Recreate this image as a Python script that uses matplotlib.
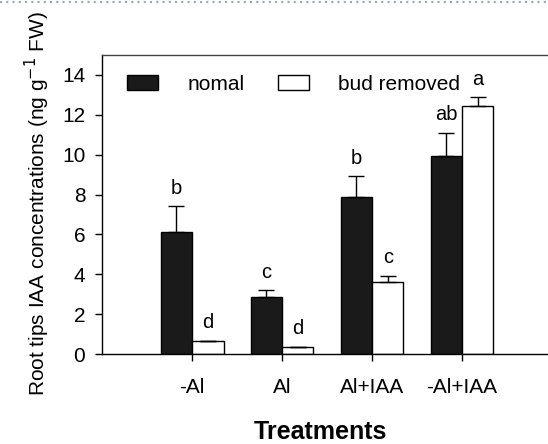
import numpy as np
import matplotlib
matplotlib.use("Agg")
import matplotlib.pyplot as plt
from matplotlib.lines import Line2D

plt.rcParams['font.family'] = ['Liberation Sans', 'DejaVu Sans']

treatments = ["-Al", "Al", "Al+IAA", "-Al+IAA"]
nomal = [6.1, 2.85, 7.9, 9.95]
nomal_err = [1.3, 0.35, 1.03, 1.15]
removed = [0.63, 0.35, 3.6, 12.45]
removed_err = [0.03, 0.02, 0.32, 0.42]
nomal_letters = ["b", "c", "b", "ab"]
removed_letters = ["d", "d", "c", "a"]

fig = plt.figure(figsize=(5.48, 4.44), dpi=100)
# axes runs past the right edge of the figure (cropped, like the reference)
ax = fig.add_axes([102/548, 1-354/444, 450/548, 299/444])

x = np.arange(1, len(treatments) + 1)
w = 0.35
ekw = dict(elinewidth=1, capthick=1, ecolor='black')
ax.bar(x - w/2, nomal, w, color='#1a1a1a', edgecolor='black', linewidth=1,
       yerr=[np.zeros(4), nomal_err], capsize=6, error_kw=ekw, label='nomal')
ax.bar(x + w/2, removed, w, color='white', edgecolor='black', linewidth=1,
       yerr=[np.zeros(4), removed_err], capsize=6, error_kw=ekw, label='bud removed')

for i in range(len(treatments)):
    ax.text(x[i] - w/2, nomal[i] + nomal_err[i] + 0.9, nomal_letters[i],
            ha='center', va='center', fontsize=14.5)
    ax.text(x[i] + w/2, removed[i] + removed_err[i] + 0.9, removed_letters[i],
            ha='center', va='center', fontsize=14.5)

ax.set_xlim(0, 5)
ax.set_ylim(0, 15)
ax.set_yticks(range(0, 15, 2))
ax.set_xticks(x)
ax.set_xticklabels(treatments)
ax.tick_params(direction='out', length=5, width=1, labelsize=15)
ax.tick_params(axis='y', pad=7)
ax.tick_params(axis='x', pad=12)
ax.spines['right'].set_visible(False)
for s in ['left', 'bottom', 'top']:
    ax.spines[s].set_linewidth(1)
ax.spines['top'].set_color('#444444')

ax.set_ylabel('Root tips IAA concentrations (ng g$^{-1}$ FW)', fontsize=15)
ax.yaxis.set_label_coords(-0.112, 0.505)
ax.set_xlabel('Treatments', fontsize=18, fontweight='bold')
ax.xaxis.set_label_coords(0.4856, -0.221)

ax.legend(loc='upper left', ncol=2, frameon=False, fontsize=15,
          handlelength=1.5, handleheight=0.77, handletextpad=1.4,
          columnspacing=1.6, bbox_to_anchor=(0.0136, 0.997))

fig.add_artist(Line2D([0, 1], [1 - 2/444, 1 - 2/444], transform=fig.transFigure,
                      color='#9aa7b5', linestyle=(0, (1, 2)), linewidth=1.5))

fig.savefig('out.png', dpi=100)
